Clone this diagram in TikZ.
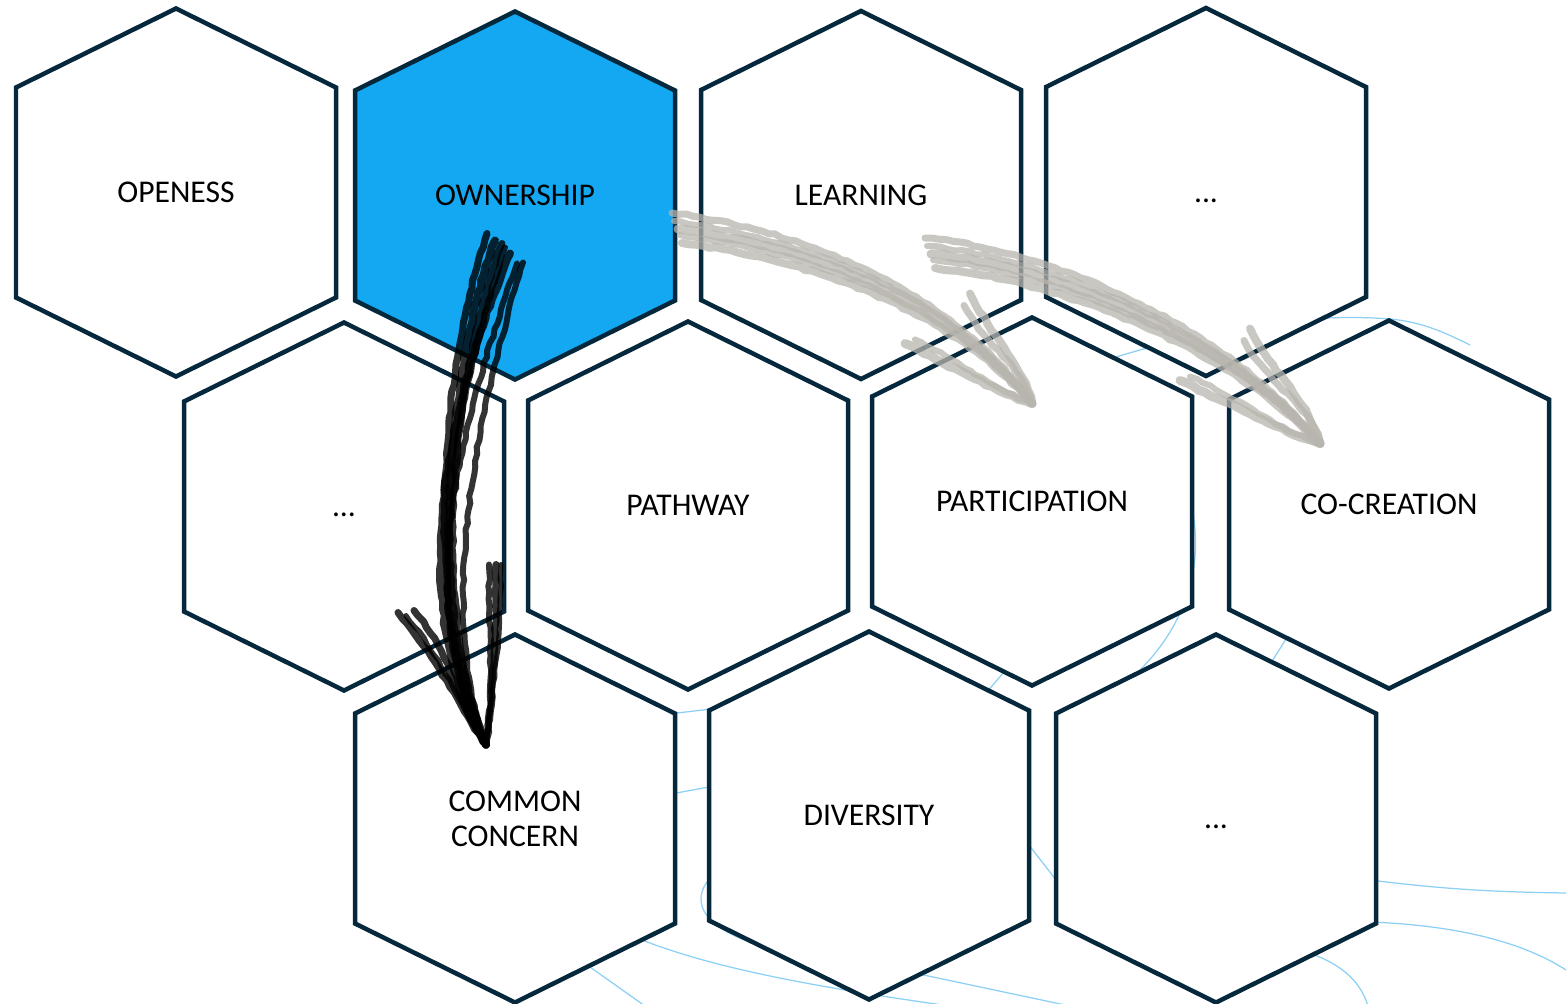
\documentclass[tikz,border=0pt]{standalone}
\usepackage{fontspec}
\setmainfont{Carlito}
\usetikzlibrary{calc, decorations.pathmorphing}

\definecolor{hexnavy}{RGB}{6,40,60}
\definecolor{hexblue}{RGB}{19,168,241}
\definecolor{sketchgray}{RGB}{184,181,174}
\definecolor{threadblue}{RGB}{140,208,245}

\tikzset{
  pics/hexcell/.style={code={
      \path[pic actions] (0,-184) -- (160,-105) -- (160,105) -- (0,184)
        -- (-160,105) -- (-160,-105) -- cycle;}},
  hexframe/.style={draw=hexnavy, line width=0.09cm, fill=white},
  hexlabel/.style={font=\fontsize{18}{20}\selectfont, align=center, inner sep=0pt},
  thread/.style={draw=threadblue, line width=0.025cm},
  inkblack/.style={draw=black, line cap=round, opacity=0.8,
      decorate, decoration={random steps, segment length=4pt, amplitude=0.6pt}},
  inkgray/.style={draw=sketchgray, line cap=round, opacity=0.75,
      decorate, decoration={random steps, segment length=4pt, amplitude=0.6pt}}
}

\begin{document}
\begin{tikzpicture}[x=0.02cm, y=-0.02cm]
  \useasboundingbox (0,0) rectangle (1566,1004);

  % faint threads behind the cells
  \draw[thread] (1100,362) .. controls (1200,330) and (1300,312) .. (1390,319)
    .. controls (1420,322) and (1440,330) .. (1470,345);
  \draw[thread] (1190,500) .. controls (1208,570) and (1180,630) .. (1140,670);
  \draw[thread] (980,700) -- (1010,665);
  \draw[thread] (1260,680) -- (1295,625);
  \draw[thread] (660,715) -- (720,708);
  \draw[thread] (660,796) -- (720,785);
  \draw[thread] (720,870) .. controls (690,890) and (690,925) .. (760,945);
  \draw[thread] (630,935) .. controls (700,965) and (800,985) .. (950,1006);
  \draw[thread] (580,960) -- (645,1006);
  \draw[thread] (900,970) -- (1070,1006);
  \draw[thread] (1025,840) -- (1060,885);
  \draw[thread] (1370,880) .. controls (1450,890) and (1500,892) .. (1566,893);
  \draw[thread] (1370,922) .. controls (1450,925) and (1520,940) .. (1566,970);
  \draw[thread] (1300,950) .. controls (1340,962) and (1360,980) .. (1368,1006);

  % cells
  \pic[hexframe] at (176,192.5) {hexcell};
  \pic[hexframe, fill=hexblue] at (515,195.5) {hexcell};
  \pic[hexframe] at (861,195) {hexcell};
  \pic[hexframe] at (1206,192) {hexcell};
  \pic[hexframe] at (344,506.5) {hexcell};
  \pic[hexframe] at (688,505.5) {hexcell};
  \pic[hexframe] at (1032,501.5) {hexcell};
  \pic[hexframe] at (1389,504.5) {hexcell};
  \pic[hexframe] at (515,818.5) {hexcell};
  \pic[hexframe] at (869,815.5) {hexcell};
  \pic[hexframe] at (1216,818.5) {hexcell};

  \node[hexlabel] (openess) at (176,192.5) {OPENESS};
  \node[hexlabel] (ownership) at (515,195.5) {OWNERSHIP};
  \node[hexlabel] (learning) at (861,195) {LEARNING};
  \node[hexlabel] (moretop) at (1206,192) {\vphantom{A}...};
  \node[hexlabel] (moremid) at (344,506.5) {\vphantom{A}...};
  \node[hexlabel] (pathway) at (688,505.5) {PATHWAY};
  \node[hexlabel] (participation) at (1032,501.5) {PARTICIPATION};
  \node[hexlabel] (cocreation) at (1389,504.5) {CO-CREATION};
  \node[hexlabel] (common) at (515,818.5) {COMMON\\CONCERN};
  \node[hexlabel] (diversity) at (869,815.5) {DIVERSITY};
  \node[hexlabel] (morelow) at (1216,818.5) {\vphantom{A}...};

  % sketched arrows
  \coordinate (owntail) at ($(ownership)+(-30,40)$);
  \coordinate (commontip) at ($(common)+(-29,-74)$);
  \coordinate (barbleft) at ($(commontip)+(-88,-132)$);
  \coordinate (barbright) at ($(commontip)+(10,-180)$);
  \foreach \sx/\sy/\ax/\cx/\w in {2/-2/-40/-70/7, 17/8/-45/-60/7, 32/28/-40/-85/6,
      38/27/-35/-55/6, 25/18/-50/-90/8, 10/5/-42/-65/8, 20/12/-38/-78/6}
    \draw[inkblack, line width=\w*0.02cm] ($(owntail)+(\sx,\sy)$)
      .. controls +(\ax,115) and +(\cx,-145) .. (commontip);
  \foreach \bx/\by/\w in {0/0/7, 16/-2/7, 8/3/5}
    \draw[inkblack, line width=\w*0.02cm] ($(barbleft)+(\bx,\by)$)
      .. controls +(35,40) and +(-25,-35) .. (commontip);
  \foreach \bx/\w in {0/7, -7/6, 5/5}
    \draw[inkblack, line width=\w*0.02cm] ($(barbright)+(\bx,0)$)
      .. controls +(0,70) and +(8,-60) .. (commontip);

  \coordinate (owngray) at ($(ownership)+(157,17.5)$);
  \coordinate (partip) at ($(participation)+(0,-98)$);
  \foreach \sx/\sy/\cy/\w in {0/0/-115/7, 6/16/-105/9, 10/30/-95/8, 2/8/-110/6, 8/22/-100/6}
    \draw[inkgray, line width=\w*0.02cm] ($(owngray)+(\sx,\sy)$)
      .. controls +(128,17) and +(-82,\cy) .. (partip);
  \foreach \bx/\by/\w in {0/0/8, -6/12/7}
    \draw[inkgray, line width=\w*0.02cm] ($(partip)+(-62+\bx,-110+\by)$)
      .. controls +(20,40) and +(-10,-40) .. (partip);
  \foreach \bx/\by/\w in {0/0/9, 10/-4/6}
    \draw[inkgray, line width=\w*0.02cm] ($(partip)+(-127+\bx,-60+\by)$)
      .. controls +(50,25) and +(-40,-15) .. (partip);

  \coordinate (learngray) at ($(learning)+(64,43)$);
  \coordinate (cotip) at ($(cocreation)+(-69,-61)$);
  \foreach \sx/\sy/\cy/\w in {0/0/-115/7, 6/16/-105/9, 10/30/-95/8, 2/8/-110/6, 8/22/-100/6}
    \draw[inkgray, line width=\w*0.02cm] ($(learngray)+(\sx,\sy)$)
      .. controls +(125,12) and +(-90,\cy) .. (cotip);
  \foreach \bx/\by/\w in {0/0/8, -6/12/7}
    \draw[inkgray, line width=\w*0.02cm] ($(cotip)+(-70+\bx,-115+\by)$)
      .. controls +(20,40) and +(-10,-40) .. (cotip);
  \foreach \bx/\by/\w in {0/0/9, 10/-4/6}
    \draw[inkgray, line width=\w*0.02cm] ($(cotip)+(-140+\bx,-63+\by)$)
      .. controls +(55,25) and +(-45,-15) .. (cotip);
\end{tikzpicture}
\end{document}
